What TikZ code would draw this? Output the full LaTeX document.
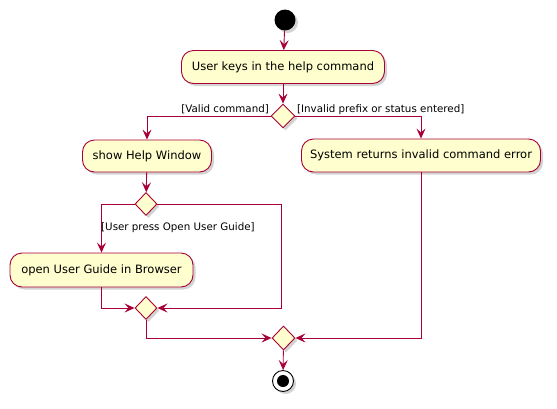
\documentclass[tikz,border=0pt]{standalone}
\usepackage{fontspec}
\setmainfont{DejaVu Sans}
\usetikzlibrary{arrows.meta,shapes.geometric,shadows,calc}
\definecolor{pborder}{HTML}{A80036}
\definecolor{pfill}{HTML}{FEFECE}
\begin{document}
\begin{tikzpicture}[x=1pt,y=-1pt,
  shad/.style={drop shadow={opacity=0.35,shadow xshift=2.5pt,shadow yshift=-2.5pt}},
  act/.style={draw=pborder,fill=pfill,rounded corners=12pt,line width=0.9pt,shad,
    font=\fontsize{11.5}{13}\selectfont,inner sep=0pt,minimum height=33pt,anchor=center},
  dec/.style={draw=pborder,fill=pfill,diamond,line width=0.9pt,shad,inner sep=0pt,
    minimum width=24pt,minimum height=24pt},
  flow/.style={draw=pborder,line width=0.9pt,-{Stealth[length=10pt,width=9pt,inset=4pt]}},
  lbl/.style={font=\fontsize{10.3}{12}\selectfont,inner sep=1pt}
]
\useasboundingbox (0,0) rectangle (557,408);
\node[circle,fill=black,minimum size=21pt,inner sep=0pt,shad] (start) at (285,20) {};
\node[act,minimum width=203pt] (a1) at (283,67) {User keys in the help command};
\node[dec] (d1) at (283,116) {};
\node[act,minimum width=129pt,minimum height=32pt] (help) at (147,156) {show Help Window};
\node[act,minimum width=239pt,minimum height=33pt] (sys) at (421,155.5) {System returns invalid command error};
\node[dec,minimum width=22pt,minimum height=23pt] (d2) at (146,204) {};
\node[act,minimum width=183pt,minimum height=34pt] (guide) at (101.5,270) {open User Guide in Browser};
\node[dec,minimum width=22pt,minimum height=23pt] (d3) at (146,308) {};
\node[dec,minimum width=23pt,minimum height=24pt] (d4) at (283.5,338) {};
\node[circle,draw=black,fill=white,line width=0.9pt,minimum size=21pt,inner sep=0pt,shad] (stop) at (283,381) {};
\node[circle,fill=black,minimum size=12pt,inner sep=0pt] (stopin) at (stop) {};
\coordinate (l1) at (147,116);
\coordinate (r1) at (421,116);
\coordinate (l2) at (101.5,204);
\coordinate (r2) at (281,204);
\coordinate (r2b) at (281,308);
\coordinate (g2) at (101.5,308);
\coordinate (d3b) at (146,338);
\coordinate (s2) at (421,338);
\draw[flow] (start) -- (a1);
\draw[flow] (a1) -- (d1);
\draw[flow] (d1.west) -- (l1) -- (help.north);
\draw[flow] (d1.east) -- (r1) -- (sys.north);
\node[lbl,anchor=south east] (lv) at ($(d1.west)+(-0.5,-0.5)$) {[Valid command]};
\node[lbl,anchor=south west] (li) at ($(d1.east)+(0.5,-0.5)$) {[Invalid prefix or status entered]};
\draw[flow] (help) -- (d2);
\draw[flow] (d2.west) -- (l2) -- (guide.north);
\node[lbl,anchor=west] (lu) at (100,228) {[User press Open User Guide]};
\draw[flow] (d2.east) -- (r2) -- (r2b) -- (d3.east);
\draw[flow] (guide.south) -- (g2) -- (d3.west);
\draw[flow] (d3.south) -- (d3b) -- (d4.west);
\draw[flow] (sys.south) -- (s2) -- (d4.east);
\draw[flow] (d4) -- (stop);
\end{tikzpicture}
\end{document}
